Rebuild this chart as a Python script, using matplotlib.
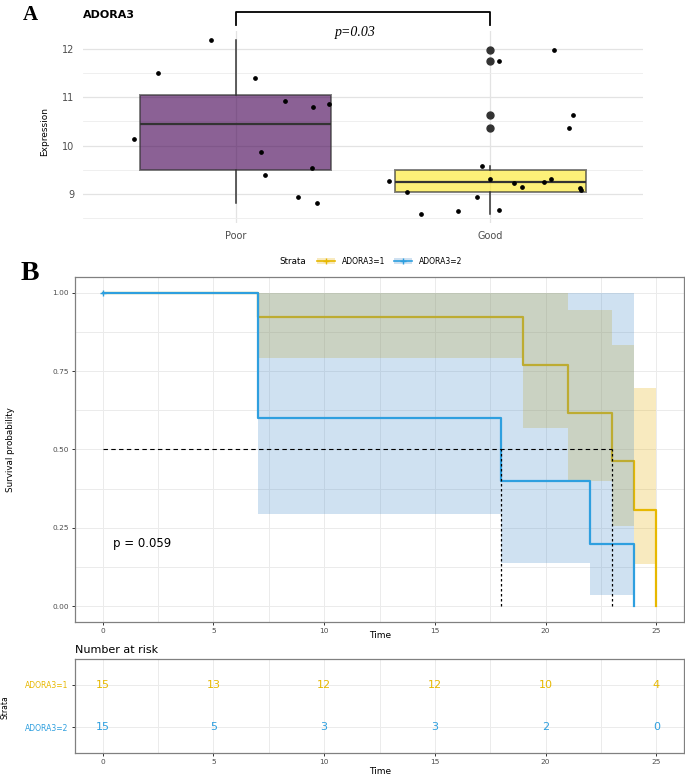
import matplotlib
matplotlib.use("Agg")
import matplotlib.pyplot as plt
from matplotlib.patches import Patch
from matplotlib.lines import Line2D

# ---- panel A data ----
groups = ["Poor", "Good"]
box_q1 = [9.49, 9.05]
box_med = [10.45, 9.25]
box_q3 = [11.04, 9.50]
whisk_lo = [8.82, 8.58]
whisk_hi = [12.19, 9.57]
good_outliers = [11.98, 11.76, 10.64, 10.36]

poor_jit = [-0.098, -0.306, 0.074, 0.195, 0.302, 0.368, -0.401, 0.098, 0.299, 0.116, 0.244, 0.318]
poor_y = [12.19, 11.50, 11.40, 10.93, 10.79, 10.86, 10.13, 9.86, 9.53, 9.40, 8.94, 8.81]
good_jit = [0.252, 0.033, 0.325, 0.309, -0.031, -0.003, 0.238, 0.211, 0.093, -0.397,
            0.123, 0.354, 0.358, -0.326, -0.054, -0.128, 0.033, -0.271]
good_y = [11.98, 11.76, 10.64, 10.36, 9.58, 9.32, 9.31, 9.25, 9.23, 9.26,
          9.14, 9.13, 9.09, 9.04, 8.94, 8.65, 8.67, 8.58]
p_box = "p=0.03"

# ---- panel B data ----
strata = ["ADORA3=1", "ADORA3=2"]
t1 = [0, 7, 19, 21, 23, 24, 25]
s1 = [1.0, 0.923, 0.769, 0.615, 0.462, 0.308, 0.0]
lo1 = [1.0, 0.791, 0.570, 0.400, 0.257, 0.136, 0.136]
hi1 = [1.0, 1.0, 1.0, 0.946, 0.832, 0.696, 0.696]
t2 = [0, 7, 18, 22, 24]
s2 = [1.0, 0.6, 0.4, 0.2, 0.0]
lo2 = [1.0, 0.293, 0.137, 0.035, 0.035]
hi2 = [1.0, 1.0, 1.0, 1.0, 1.0]
cens2_t = [0]
cens2_s = [1.0]
medians = [18, 23]
p_km = "p = 0.059"

risk_times = [0, 5, 10, 15, 20, 25]
risk1 = [15, 13, 12, 12, 10, 4]
risk2 = [15, 5, 3, 3, 2, 0]

YEL = "#E7B800"
BLU = "#2E9FDF"
YEL_FILL = "#E7AC00"
BLU_FILL = "#438BCB"
GRAY_TXT = "#4d4d4d"

W, H = 685, 777
fig = plt.figure(figsize=(W / 100, H / 100), dpi=100)


def box(l, t, r, b):
    return [l / W, 1 - b / H, (r - l) / W, (b - t) / H]


# ================= Panel A =================
ax = fig.add_axes(box(83, 31, 643, 223))

stats = []
for i in range(2):
    stats.append(dict(med=box_med[i], q1=box_q1[i], q3=box_q3[i],
                      whislo=whisk_lo[i], whishi=whisk_hi[i],
                      fliers=good_outliers if i == 1 else []))
bp = ax.bxp(stats, positions=[1, 2], widths=0.75, patch_artist=True, showcaps=False,
            boxprops=dict(edgecolor="#333333", lw=1.4),
            medianprops=dict(color="#333333", lw=1.6),
            whiskerprops=dict(color="#333333", lw=1.1),
            flierprops=dict(marker="o", markersize=5, markerfacecolor="#333333",
                            markeredgecolor="#333333"))
for patch, c in zip(bp["boxes"], ["#440154", "#FDE725"]):
    patch.set_facecolor(c)
    patch.set_alpha(0.62)
    patch.set_edgecolor("#333333")

ax.plot([1 + d for d in poor_jit], poor_y, "o", color="black", markersize=2.4, zorder=5)
ax.plot([2 + d for d in good_jit], good_y, "o", color="black", markersize=2.4, zorder=5)

ax.set_xlim(0.4, 2.6)
ax.set_ylim(8.40, 12.37)
for s in ax.spines.values():
    s.set_visible(False)
ax.set_yticks([9, 10, 11, 12])
ax.set_yticks([8.5, 9.5, 10.5, 11.5], minor=True)
ax.set_xticks([1, 2])
ax.set_xticklabels(groups)
ax.tick_params(length=0, labelsize=7, labelcolor=GRAY_TXT, pad=6)
ax.tick_params(which="minor", length=0)
ax.grid(True, which="major", color="#e3e3e3", lw=0.9)
ax.grid(True, which="minor", axis="y", color="#ededed", lw=0.6)
ax.set_axisbelow(True)

# significance bracket
ax.plot([1, 1, 2, 2], [12.50, 12.77, 12.77, 12.50], color="black", lw=1.3, clip_on=False)
ax.text(1.47, 12.33, p_box, ha="center", va="center", fontsize=10,
        family="Liberation Serif", style="italic")

fig.text(30 / W, 1 - 15 / H, "A", fontsize=15, fontweight="bold", family="Liberation Serif",
         ha="center", va="center")
fig.text(83 / W, 1 - 15 / H, "ADORA3", fontsize=8, fontweight="bold", ha="left", va="center")
fig.text(45 / W, 1 - 132 / H, "Expression", fontsize=6.5, rotation=90, ha="center", va="center")

# ================= Panel B: KM =================
km = fig.add_axes(box(75, 277, 684, 622))
km.set_xlim(-1.25, 26.25)
km.set_ylim(-0.05, 1.05)
km.set_xticks([0, 5, 10, 15, 20, 25])
km.set_xticks([2.5, 7.5, 12.5, 17.5, 22.5], minor=True)
km.set_yticks([0, 0.25, 0.5, 0.75, 1.0])
km.set_yticks([0.125, 0.375, 0.625, 0.875], minor=True)
km.set_yticklabels(["0.00", "0.25", "0.50", "0.75", "1.00"])
km.tick_params(labelsize=5.3, labelcolor=GRAY_TXT, length=2.5, width=0.7, color="#333333", pad=2)
km.tick_params(which="minor", length=0)
km.grid(True, which="both", color="#ebebeb", lw=0.7)
km.set_axisbelow(True)
for s in km.spines.values():
    s.set_color("#808080")
    s.set_linewidth(0.9)

km.fill_between(t1, lo1, hi1, step="post", color=YEL_FILL, alpha=0.25, lw=0, zorder=1)
km.plot(t1, s1, drawstyle="steps-post", color=YEL, lw=1.6, zorder=2)
km.fill_between(t2, lo2, hi2, step="post", color=BLU_FILL, alpha=0.25, lw=0, zorder=3)
km.plot(t2, s2, drawstyle="steps-post", color=BLU, lw=1.6, zorder=4)
km.plot(cens2_t, cens2_s, "+", color=BLU, markersize=5, mew=1, zorder=5)

km.plot([0, max(medians)], [0.5, 0.5], color="black", lw=0.8, ls=(0, (4, 3)), zorder=6)
for m in medians:
    km.plot([m, m], [0, 0.5], color="black", lw=0.9, ls=(0, (2, 2)), zorder=6)

km.text(0.45, 0.2, p_km, fontsize=8.5, ha="left", va="center")

fig.text(30 / W, 1 - 273 / H, "B", fontsize=20, fontweight="bold", family="Liberation Serif",
         ha="center", va="center")
fig.text(11 / W, 1 - 450 / H, "Survival probability", fontsize=6.3, rotation=90,
         ha="center", va="center")
fig.text(380 / W, 1 - 635 / H, "Time", fontsize=6.5, ha="center", va="center")

# legend
fig.text(279 / W, 1 - 261 / H, "Strata", fontsize=6.3, ha="left", va="center")
handles = []
for c, fc in [(YEL, YEL_FILL), (BLU, BLU_FILL)]:
    handles.append((Patch(facecolor=fc, alpha=0.25, lw=0),
                    Line2D([], [], color=c, lw=1.2, marker="+", markersize=5)))
fig.legend(handles, strata, loc="center left", bbox_to_anchor=(317 / W, 1 - 261 / H),
           ncol=2, frameon=False, fontsize=5.5, handlelength=2.4, handletextpad=0.9,
           columnspacing=1.1, borderpad=0, borderaxespad=0)

# ================= Risk table =================
rk = fig.add_axes(box(75, 659, 684, 753))
rk.set_xlim(-1.25, 26.25)
rk.set_ylim(0.4, 2.6)
rk.set_xticks(risk_times)
rk.set_xticks([2.5, 7.5, 12.5, 17.5, 22.5], minor=True)
rk.set_yticks([2, 1])
rk.set_yticklabels(strata)
for lab, c in zip(rk.get_yticklabels(), [YEL, BLU]):
    lab.set_color(c)
rk.tick_params(axis="y", labelsize=5.5, length=2.5, width=0.7, color="#333333", pad=2)
rk.tick_params(axis="x", labelsize=5.3, labelcolor=GRAY_TXT, length=2.5, width=0.7,
               color="#333333", pad=2)
rk.tick_params(which="minor", length=0)
rk.grid(True, which="both", color="#ebebeb", lw=0.7)
rk.set_axisbelow(True)
for s in rk.spines.values():
    s.set_color("#808080")
    s.set_linewidth(0.9)
for t, n1, n2 in zip(risk_times, risk1, risk2):
    rk.text(t, 2, str(n1), color=YEL, fontsize=8, ha="center", va="center")
    rk.text(t, 1, str(n2), color=BLU, fontsize=8, ha="center", va="center")

fig.text(75 / W, 1 - 650 / H, "Number at risk", fontsize=8, ha="left", va="center")
fig.text(5 / W, 1 - 707 / H, "Strata", fontsize=5.5, rotation=90, ha="center", va="center")
fig.text(380 / W, 1 - 772 / H, "Time", fontsize=6.5, ha="center", va="center")

fig.savefig("out.png", dpi=100)
